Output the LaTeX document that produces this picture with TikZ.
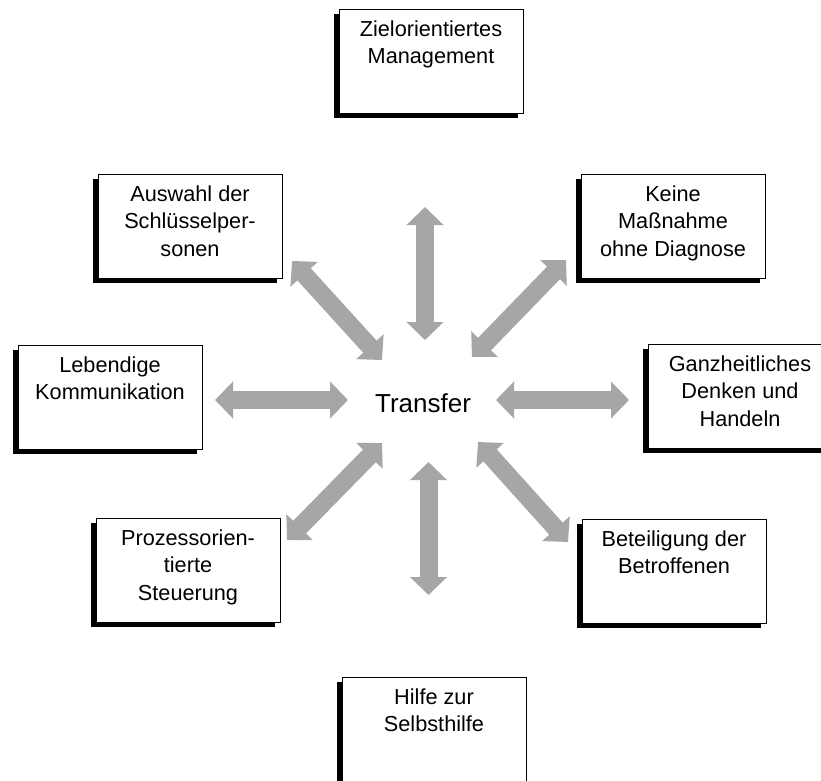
\documentclass[tikz,border=0pt]{standalone}
\usepackage{fontspec}
\setmainfont{Liberation Sans}
\usetikzlibrary{arrows.meta,shadows}
\definecolor{arrowgray}{HTML}{A6A6A6}
\begin{document}
\begin{tikzpicture}[x=1pt,y=-1pt,
  box/.style={draw=black, line width=0.8pt, fill=white, minimum width=184pt, minimum height=104pt, inner sep=0pt,
    drop shadow={shadow xshift=-5pt, shadow yshift=-5pt, fill=black, opacity=1}},
  boxtext/.style={anchor=north, align=center, inner sep=0pt, font=\fontsize{21.7}{27.5}\selectfont},
  dblarrow/.style={draw=arrowgray, line width=18pt, {Triangle[width=36pt,length=18pt]}-{Triangle[width=36pt,length=18pt]}}]
\useasboundingbox (0,0) rectangle (821,780);
\clip (0,0) rectangle (821,780);
\fill[white] (0,0) rectangle (821,780);

% boxes
\node[box] (zm) at (431,61) {};
\node[box] (ausw) at (190,226) {};
\node[box] (keine) at (673,226) {};
\node[box] (leb) at (110,397) {};
\node[box] (ganz) at (740,396) {};
\node[box] (proz) at (188,570) {};
\node[box] (bet) at (674,571) {};
\node[box] (hilfe) at (434,729) {};

% box texts
\node[boxtext] (zmt) at ([yshift=-11.5pt]zm.north) {Zielorientiertes\\Management};
\node[boxtext] (auswt) at ([yshift=-11.5pt]ausw.north) {Auswahl der\\Schlüsselper-\\sonen};
\node[boxtext] (keinet) at ([yshift=-11.5pt]keine.north) {Keine\\Maßnahme\\ohne Diagnose};
\node[boxtext] (lebt) at ([yshift=-11.5pt]leb.north) {Lebendige\\Kommunikation};
\node[boxtext] (ganzt) at ([yshift=-11.5pt]ganz.north) {Ganzheitliches\\Denken und\\Handeln};
\node[boxtext] (prozt) at ([yshift=-11.5pt]proz.north) {Prozessorien-\\tierte\\Steuerung};
\node[boxtext] (bett) at ([yshift=-11.5pt]bet.north) {Beteiligung der\\Betroffenen};
\node[boxtext] (hilfet) at ([yshift=-11.5pt]hilfe.north) {Hilfe zur\\Selbsthilfe};

% center
\node[anchor=base, inner sep=0pt, font=\fontsize{26}{30}\selectfont] (transfer) at (423,412) {Transfer};

% arrow end coordinates
\coordinate (tA) at (425,207);   \coordinate (tB) at (425,340);
\coordinate (bA) at (428.5,462); \coordinate (bB) at (428.5,595);
\coordinate (lA) at (215,400);   \coordinate (lB) at (348,400);
\coordinate (rA) at (496,400);   \coordinate (rB) at (629,400);
\coordinate (ulA) at (292,261);  \coordinate (ulB) at (382,360);
\coordinate (urA) at (566,260);  \coordinate (urB) at (472,357);
\coordinate (llA) at (287,540);  \coordinate (llB) at (382,443);
\coordinate (lrA) at (568,542);  \coordinate (lrB) at (478,442);

\draw[dblarrow] (tA) -- (tB);
\draw[dblarrow] (bA) -- (bB);
\draw[dblarrow] (lA) -- (lB);
\draw[dblarrow] (rA) -- (rB);
\draw[dblarrow] (ulA) -- (ulB);
\draw[dblarrow] (urA) -- (urB);
\draw[dblarrow] (llA) -- (llB);
\draw[dblarrow] (lrA) -- (lrB);
\end{tikzpicture}
\end{document}
